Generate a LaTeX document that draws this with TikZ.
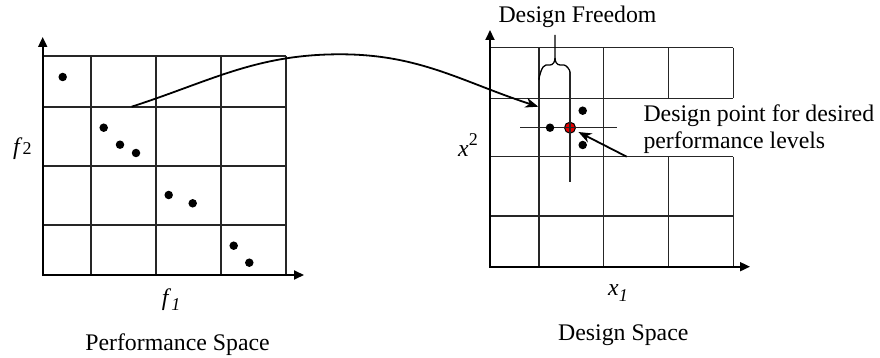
\documentclass[tikz,border=0pt]{standalone}
\usepackage{fontspec}
\setmainfont{Liberation Serif}
\usetikzlibrary{arrows.meta}
\tikzset{
  gridline/.style={line width=1.3pt,black!85},
  axisline/.style={line width=1.8pt,-{Triangle[length=10pt,width=9pt]}},
  bigarrow/.style={line width=1.8pt,-{Stealth[length=13pt,width=10pt,inset=4pt]}},
  dotmark/.style={circle,fill=black,inner sep=0pt,minimum size=8.5pt},
  spacetext/.style={inner sep=0pt,anchor=base},
}
\newcommand{\smallnum}[1]{{\fontsize{18}{18}\selectfont #1}}
\begin{document}
\begin{tikzpicture}[x=1pt,y=-1pt,font=\fontsize{23.8}{26.5}\selectfont]
  \useasboundingbox (0,0) rectangle (880,358);
  % performance space grid
  \foreach \x in {91,156,221,286}
    \draw[gridline] (\x,56) -- (\x,275);
  \foreach \y in {56,107,166,225}
    \draw[gridline] (42.7,\y) -- (286,\y);
  \draw[axisline] (42.7,276) -- (42.7,37);
  \draw[axisline] (41.8,275) -- (304,275);
  \foreach \i/\x/\y in {1/62.7/77,2/103.7/127.7,3/120/144.7,4/136/153,
                        5/168.7/195,6/192.7/203.3,7/233.7/245.7,8/249.3/262.7}
    \node[dotmark] (pt\i) at (\x,\y) {};
  \node[spacetext,anchor=base west] (ftwo) at (13,155) {\textit{f}\smallnum{2}};
  \node[spacetext,anchor=base west] (fone) at (161.7,305)
    {\textit{f}\raisebox{-5pt}{\smallnum{\textit{1}}}};
  \node[spacetext] (perf) at (177.5,350) {Performance Space};
  % design space grid
  \foreach \x in {539,603.3}
    \draw[gridline] (\x,47.7) -- (\x,266.7);
  \foreach \x in {668.7,733.3} {
    \draw[gridline] (\x,47.7) -- (\x,98.3);
    \draw[gridline] (\x,156.7) -- (\x,266.7);
  }
  \foreach \y in {47.7,98.3,156.7,216}
    \draw[gridline] (490,\y) -- (733.3,\y);
  \draw[axisline] (490,267.6) -- (490,30);
  \draw[axisline] (489.1,266.7) -- (750,266.7);
  \node[spacetext,anchor=base west] (xtwo) at (458,156.7)
    {\textit{x}\raisebox{11pt}{\smallnum{2}}};
  \node[spacetext,anchor=base west] (xone) at (608,295)
    {\textit{x}\raisebox{-6pt}{\smallnum{\textit{1}}}};
  \node[spacetext] (dsgn) at (623.3,340) {Design Space};
  % design freedom brace
  \draw[line width=1.3pt] (539,80) to[out=90,in=180,looseness=0.6] (546,65) -- (550,65)
    to[out=0,in=-90] (555,58) -- (555,35);
  \draw[line width=1.3pt] (555,58) to[out=-90,in=180] (560,65) -- (564,65)
    to[out=0,in=90,looseness=0.6] (570,72);
  \node[spacetext] (freedom) at (577.5,22.7) {Design Freedom};
  % design point with cross lines
  \node[circle,draw,line width=1pt,fill=red!90!black,minimum size=11pt,inner sep=0pt] (dp) at (570,127.7) {};
  \draw[gridline] (520,127.7) -- (616.7,127.7);
  \draw[gridline] (570,72) -- (570,181.7);
  \node[dotmark] (nb1) at (550,127.7) {};
  \node[dotmark] (nb2) at (582.7,110.7) {};
  \node[dotmark] (nb3) at (582.7,145) {};
  \node[spacetext,anchor=base west] (dptext) at (643.3,121.7) {Design point for desired};
  \node[spacetext,anchor=base west] (dptext2) at (643.3,148.3) {performance levels};
  % connectors
  \coordinate (mapfrom) at (131.7,106.7);
  \coordinate (mapto) at (538.3,106.7);
  \coordinate (peak) at (340,54.3);
  \draw[bigarrow] (mapfrom) to[out=18,in=180] (peak) to[out=0,in=162] (mapto);
  \coordinate (dpfrom) at (626.7,156.7);
  \draw[bigarrow,shorten >=3.5pt] (dpfrom) -- (dp);
\end{tikzpicture}
\end{document}
